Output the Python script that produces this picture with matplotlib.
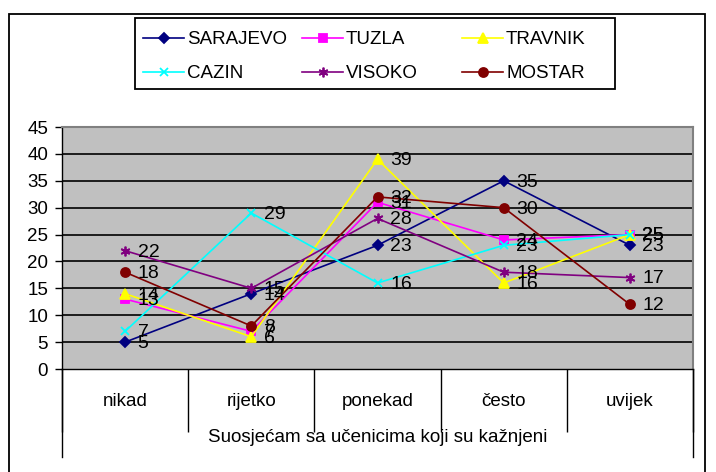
import numpy as np
import matplotlib.pyplot as plt
from matplotlib.patches import Rectangle

plt.rcParams['font.family'] = ['Liberation Sans', 'DejaVu Sans']

categories = ['nikad', 'rijetko', 'ponekad', 'često', 'uvijek']
group_label = 'Suosjećam sa učenicima koji su kažnjeni'

sarajevo = [5, 14, 23, 35, 23]
tuzla = [13, 7, 31, 24, 25]
travnik = [14, 6, 39, 16, 25]
cazin = [7, 29, 16, 23, 25]
visoko = [22, 15, 28, 18, 17]
mostar = [18, 8, 32, 30, 12]

names = ['SARAJEVO', 'TUZLA', 'TRAVNIK', 'CAZIN', 'VISOKO', 'MOSTAR']
series = [sarajevo, tuzla, travnik, cazin, visoko, mostar]
colors = ['#000080', '#FF00FF', '#FFFF00', '#00FFFF', '#800080', '#800000']
markers = ['D', 's', '^', 'x', (6, 2, 0), 'o']
msizes = [5.5, 6, 7, 6, 7, 6.5]

W, H = 716, 472
fig = plt.figure(figsize=(W / 100, H / 100), dpi=100)

# plot area in pixels
x0, x1, y0, y1 = 62, 693, 127, 369
ax = fig.add_axes([x0 / W, 1 - y1 / H, (x1 - x0) / W, (y1 - y0) / H])
ax.set_facecolor('#C0C0C0')

x = np.arange(len(categories))
handles = []
for s, name, c, m, ms in zip(series, names, colors, markers, msizes):
    h, = ax.plot(x, s, color=c, lw=1.2, marker=m, markersize=ms,
                 markeredgecolor=c, markerfacecolor=c, mew=1.3, label=name,
                 clip_on=False, zorder=3)
    handles.append(h)
    for xi, v in zip(x, s):
        ax.annotate(str(v), (xi, v), xytext=(9, -1), textcoords='offset points',
                    va='center', ha='left', fontsize=14, color='black',
                    zorder=4, annotation_clip=False)

ax.set_xlim(-0.5, len(categories) - 0.5)
ax.set_ylim(0, 45)
ax.set_yticks(np.arange(0, 46, 5))
ax.tick_params(axis='y', length=5, width=1, pad=5, labelsize=13.5)
for yv in range(5, 45, 5):
    ax.axhline(yv, color='black', lw=1.2, zorder=1)

ax.set_xticks(x)
ax.set_xticklabels(categories)
ax.set_xticks(np.arange(-0.5, len(categories), 1.0), minor=True)
ax.tick_params(axis='x', which='major', length=0, pad=17, labelsize=13.5)
ax.tick_params(axis='x', which='minor', length=45, width=1, direction='out')

for side in ['top', 'right']:
    ax.spines[side].set_color('#808080')
    ax.spines[side].set_linewidth(1.5)
ax.spines['left'].set_color('black')
ax.spines['bottom'].set_color('black')
ax.spines['left'].set_linewidth(1)
ax.spines['bottom'].set_linewidth(1)

# outer lines of the category band and the group label
trans = ax.get_xaxis_transform()
depth = -(457 - y1) / (y1 - y0)
for xe in [-0.5, len(categories) - 0.5]:
    ax.plot([xe, xe], [0, depth], color='black', lw=1, transform=trans, clip_on=False)
ax.text((len(categories) - 1) / 2, -(438 - y1) / (y1 - y0), group_label,
        transform=trans, ha='center', va='center', fontsize=13.5)

# legend: three equal-width columns inside one frame
col_x = [143, 302, 462]
for k, cx in enumerate(col_x):
    idx = [k, k + 3]
    fig.legend([handles[i] for i in idx], [names[i] for i in idx],
               loc='upper left', bbox_to_anchor=(cx / W, 1 - 31 / H),
               fontsize=13.5, frameon=False, handlelength=2.2,
               handletextpad=0.15, labelspacing=0.9, borderpad=0,
               borderaxespad=0)
fig.add_artist(Rectangle((135 / W, 1 - 89 / H), (615 - 135) / W, (89 - 18) / H,
                         transform=fig.transFigure, fill=False,
                         edgecolor='black', lw=1.3))

# outer chart border
fig.add_artist(Rectangle((9 / W, -0.1), (705 - 9) / W, 1.1 - 14 / H,
                         transform=fig.transFigure, fill=False,
                         edgecolor='black', lw=1.3))

fig.savefig('out.png', dpi=100)
